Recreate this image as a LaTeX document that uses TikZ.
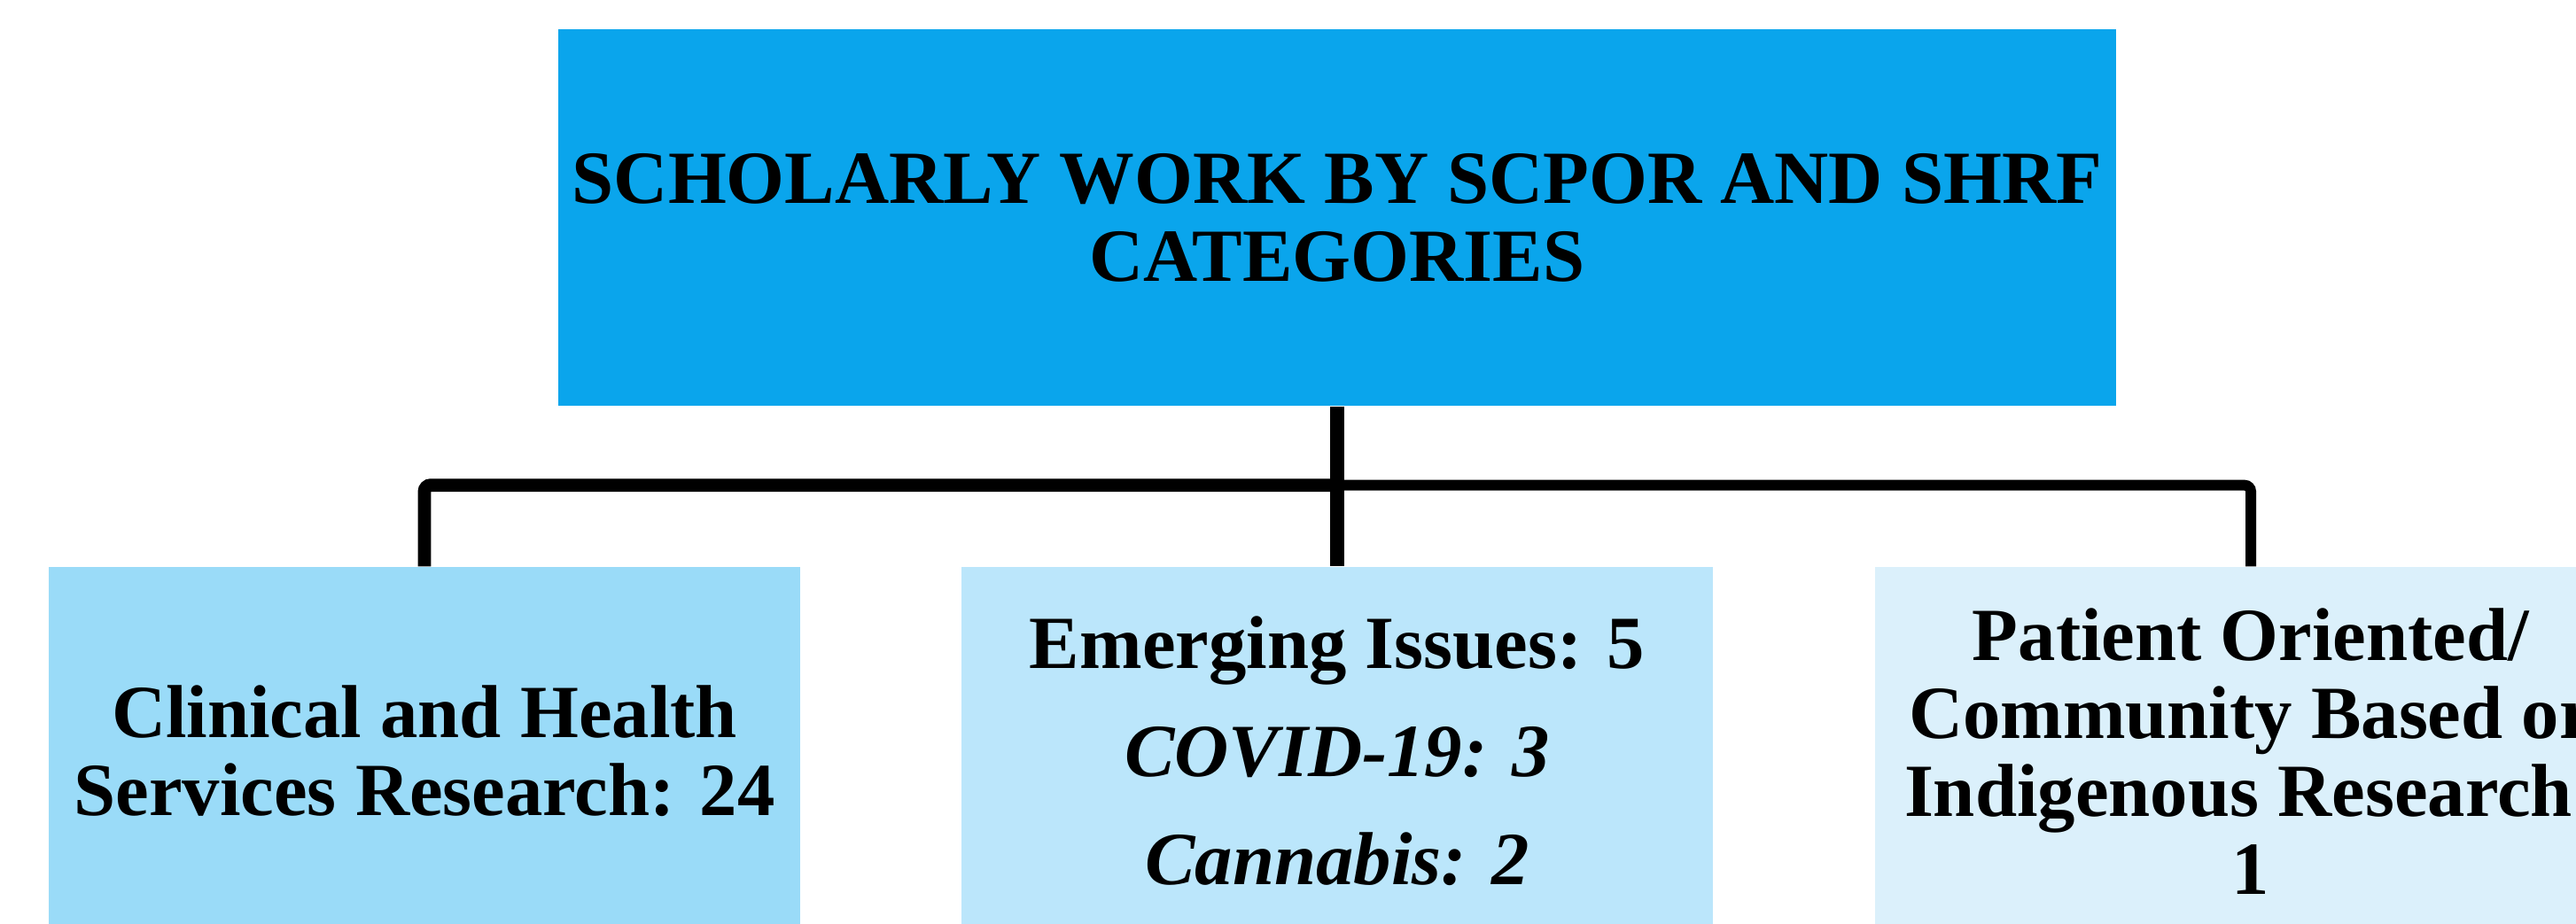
\documentclass[tikz,border=0pt]{standalone}
\usepackage{fontspec}
\setmainfont{Liberation Serif}
\usetikzlibrary{calc}
\definecolor{headblue}{HTML}{0AA5EC}
\definecolor{clinblue}{HTML}{9ADBF8}
\definecolor{emerblue}{HTML}{BBE6FB}
\definecolor{patblue}{HTML}{DBF0FB}
\tikzset{catbox/.style = {rectangle, inner sep=0pt, align=center,
    minimum width=8.48cm, minimum height=4.16cm,
    font=\fontsize{24.1}{25}\selectfont\bfseries}}
\tikzset{branch/.style = {line width=4.2pt, rounded corners=2pt}}

\begin{document}
\begin{tikzpicture}
        \useasboundingbox (0,0) rectangle (29.07,-10.43);
        \clip (0,0) rectangle (29.07,-10.43);

        % Boxes
        \node[catbox, fill=headblue, minimum width=17.58cm, minimum height=4.25cm]
            (head) at (15.09,-2.455) {SCHOLARLY WORK BY SCPOR AND SHRF\\CATEGORIES};
        \node[catbox, fill=clinblue] (clin) at (4.79,-8.48)
            {Clinical and Health\\Services Research: 24};
        \node[catbox, fill=emerblue] (emer) at (15.09,-8.48)
            {Emerging Issues: 5\\[9.7pt]\itshape COVID-19: 3\\[9.7pt]\itshape Cannabis: 2};
        \node[catbox, fill=patblue] (pat) at (25.40,-8.48)
            {Patient Oriented/\\Community Based or\\Indigenous Research:\\1};

        % Connectors
        \coordinate (bar) at ([yshift=-0.89cm]head.south);
        \draw[branch, line width=4.5pt] (head.south) -- (emer.north);
        \draw[branch] (clin.north) |- (bar);
        \draw[branch, line width=3.4pt] (bar) -| (pat.north);
    \end{tikzpicture}
\end{document}
